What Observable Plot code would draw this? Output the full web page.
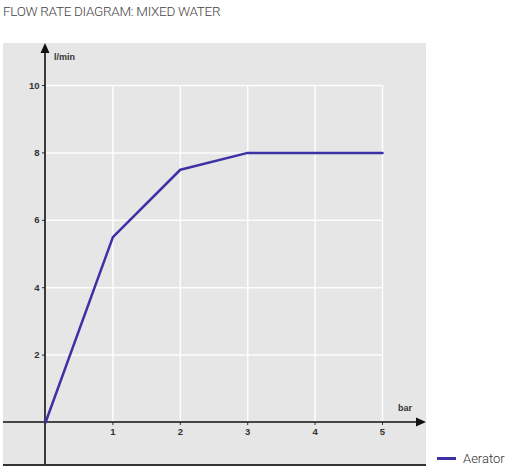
<!DOCTYPE html>
<html>
<head>
<meta charset="utf-8">
<script src="https://cdn.jsdelivr.net/npm/d3@7"></script>
<script src="https://cdn.jsdelivr.net/npm/@observablehq/plot@0.6"></script>
<style>
  body { margin: 0; background: #fff; }
  #wrap { position: relative; width: 508px; height: 471px; }
  #title { height: 30px; padding-left: 3px; font-family: Roboto, "Liberation Sans", sans-serif;
           font-weight: 300; font-size: 13.5px; color: #444; line-height: 22px; letter-spacing: -0.3px; }
  #legend { position: absolute; left: 437px; top: 451px; font-family: Roboto, "Liberation Sans", sans-serif;
            font-weight: 300; font-size: 13px; color: #333; display: flex; align-items: center; }
  #legend span.sw { display: inline-block; width: 19px; height: 2.5px; background: #3d31a6; margin-right: 7px; }
</style>
</head>
<body>
<div id="wrap">
  <div id="title">FLOW RATE DIAGRAM: MIXED WATER</div>
  <div id="chart"></div>
  <div id="legend"><span class="sw"></span>Aerator</div>
</div>
<script>
// pressure (bar) vs flow rate (l/min)
const bars = [0, 1, 2, 3, 4, 5];
const flows = [0, 5.5, 7.5, 8, 8, 8];
const xTicks = [1, 2, 3, 4, 5];
const yTicks = [2, 4, 6, 8, 10];

const data = bars.map((b, i) => ({bar: b, flow: flows[i]}));

// gray panel behind the grid (moved to the back after render)
function panel(index, scales) {
  const x = scales.x, y = scales.y;
  const g = d3.create("svg:g").attr("class", "panel");
  g.append("rect")
    .attr("x", x(0) - 42).attr("y", y(10) - 42)
    .attr("width", x(5) + 44 - (x(0) - 42))
    .attr("height", y(0) + 43 - (y(10) - 42))
    .attr("fill", "#e6e6e6");
  return g.node();
}

// axis lines with arrows, bottom rule and axis names
function arrows(index, scales) {
  const x = scales.x, y = scales.y;
  const g = d3.create("svg:g").attr("fill", "#111").attr("stroke", "#111").attr("text-anchor", "start");
  const left = x(0) - 42, right = x(5) + 44, top = y(10) - 42, bottom = y(0) + 43;
  g.append("line").attr("x1", x(0)).attr("x2", x(0)).attr("y1", bottom).attr("y2", top + 6).attr("stroke-width", 1.6);
  g.append("path").attr("stroke", "none").attr("d", `M${x(0)},${top}L${x(0) - 4.5},${top + 10}L${x(0) + 4.5},${top + 10}Z`);
  g.append("line").attr("x1", left).attr("x2", right - 6).attr("y1", y(0)).attr("y2", y(0)).attr("stroke-width", 1.6);
  g.append("path").attr("stroke", "none").attr("d", `M${right},${y(0)}L${right - 10},${y(0) - 4.5}L${right - 10},${y(0) + 4.5}Z`);
  g.append("line").attr("x1", left).attr("x2", right).attr("y1", bottom).attr("y2", bottom).attr("stroke", "#333").attr("stroke-width", 2);
  g.append("text").attr("stroke", "none").attr("fill", "#333")
    .attr("x", x(0) + 9).attr("y", top + 17)
    .attr("font-size", 9).attr("font-weight", 600).text("l/min");
  g.append("text").attr("stroke", "none").attr("fill", "#333")
    .attr("x", x(5) + 16).attr("y", y(0) - 11)
    .attr("font-size", 9).attr("font-weight", 600).text("bar");
  return g.node();
}

const chart = Plot.plot({
  width: 508,
  height: 441,
  marginLeft: 45,
  marginRight: 126,
  marginTop: 55,
  marginBottom: 49,
  style: {
    background: "transparent",
    fontFamily: "'Liberation Sans', Arial, sans-serif",
    fontSize: "9.5px",
    fontWeight: 600,
    color: "#333",
    overflow: "visible"
  },
  x: {domain: [0, 5], ticks: xTicks, tickFormat: "d", tickSize: 3, tickPadding: 3, label: null},
  y: {domain: [0, 10], ticks: yTicks, tickFormat: "d", tickSize: 3, tickPadding: 3, label: null},
  marks: [
    panel,
    Plot.ruleX(xTicks, {y1: 0, y2: 10, stroke: "white", strokeWidth: 1.5, strokeOpacity: 0.9}),
    Plot.ruleY(yTicks, {x1: 0, x2: 5, stroke: "white", strokeWidth: 1.5, strokeOpacity: 0.9}),
    arrows,
    Plot.line(data, {x: "bar", y: "flow", stroke: "#3d31a6", strokeWidth: 2.5})
  ]
});

// put the panel under the implicit axes
d3.select(chart).select(".panel").lower();
d3.select("#chart").append(() => chart);
</script>
</body>
</html>
